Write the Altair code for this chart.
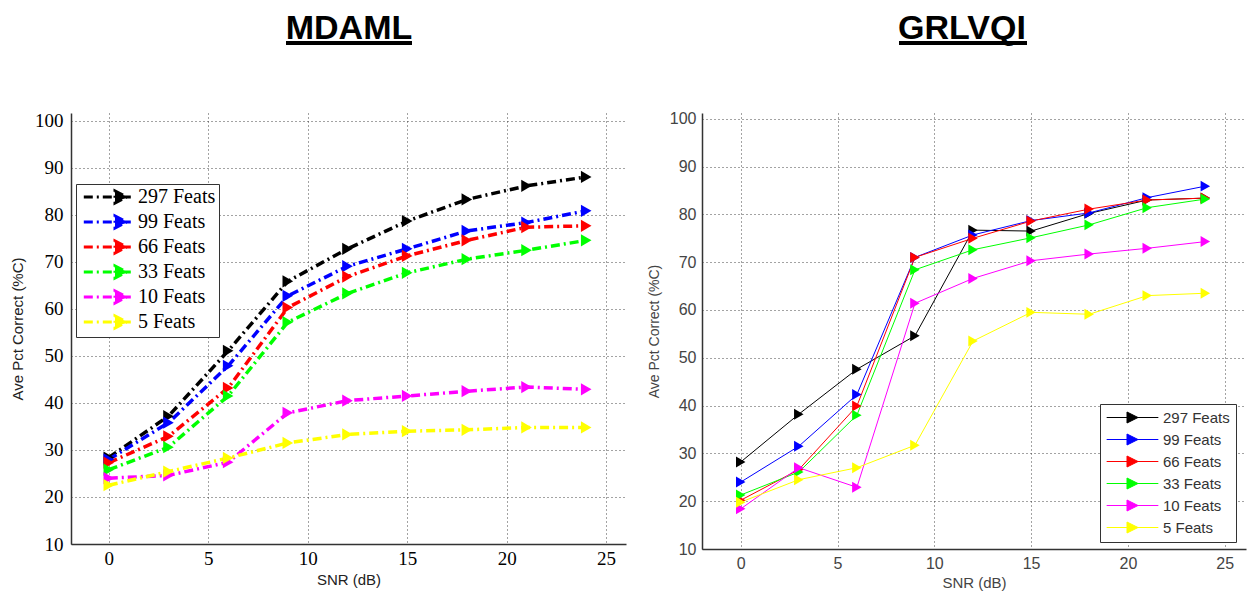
import altair as alt
import pandas as pd

snr = [0, 3, 6, 9, 12, 15, 18, 21, 24]
feats = ["297 Feats", "99 Feats", "66 Feats", "33 Feats", "10 Feats", "5 Feats"]
colors = ["#000000", "#0000FF", "#FF0000", "#00FF00", "#FF00FF", "#FFFF00"]

# MDAML (left panel)
mdaml_297 = [28.4, 37.2, 51.1, 65.9, 72.8, 78.7, 83.3, 86.2, 88.1]
mdaml_99 = [28.0, 35.8, 47.9, 62.8, 69.1, 72.8, 76.6, 78.4, 80.9]
mdaml_66 = [27.3, 32.9, 43.2, 60.3, 66.9, 71.3, 74.6, 77.4, 77.7]
mdaml_33 = [25.8, 30.6, 41.5, 57.2, 63.3, 67.7, 70.6, 72.5, 74.6]
mdaml_10 = [24.0, 24.6, 27.4, 37.9, 40.5, 41.5, 42.5, 43.4, 42.9]
mdaml_5 = [22.5, 25.4, 28.3, 31.5, 33.3, 34.0, 34.3, 34.8, 34.8]

# GRLVQI (right panel)
grlvqi_297 = [28.2, 38.2, 47.6, 54.6, 76.7, 76.5, 80.2, 83.0, 83.4]
grlvqi_99 = [24.0, 31.5, 42.3, 71.0, 75.7, 78.7, 80.3, 83.5, 85.9]
grlvqi_66 = [20.2, 26.6, 39.9, 71.0, 75.0, 78.6, 81.1, 83.0, 83.4]
grlvqi_33 = [21.3, 26.1, 38.0, 68.4, 72.6, 75.1, 77.8, 81.4, 83.2]
grlvqi_10 = [18.4, 27.0, 22.9, 61.4, 66.6, 70.3, 71.7, 72.9, 74.3]
grlvqi_5 = [19.8, 24.5, 27.0, 31.7, 53.5, 59.5, 59.1, 63.0, 63.5]

x_ticks = [0, 5, 10, 15, 20, 25]
y_ticks = [10, 20, 30, 40, 50, 60, 70, 80, 90, 100]
titles = ["MDAML", "GRLVQI"]


def to_long(series_list):
    rows = []
    for k, (name, vals) in enumerate(zip(feats, series_list)):
        for s, v in zip(snr, vals):
            rows.append({"snr": s, "acc": v, "feats": name, "k": k})
    return pd.DataFrame(rows)


df_left = to_long([mdaml_297, mdaml_99, mdaml_66, mdaml_33, mdaml_10, mdaml_5])
df_right = to_long([grlvqi_297, grlvqi_99, grlvqi_66, grlvqi_33, grlvqi_10, grlvqi_5])

DASHDOT = [9, 4, 2, 4]
SERIF = "Liberation Serif, Times New Roman, serif"
SANS = "Liberation Sans, Arial, sans-serif"
NARROW = "Liberation Sans Narrow, Arial Narrow, Liberation Sans, sans-serif"


def axis_common(**kw):
    base = dict(
        grid=True, gridDash=[1, 3], gridColor="#333333", gridOpacity=0.9, gridWidth=1,
        ticks=False, domainColor="#333333", domainWidth=1.5,
    )
    base.update(kw)
    return alt.Axis(**base)


def title_layers(text, cx, x1, x2):
    one = alt.Chart(pd.DataFrame({"t": [text]}))
    txt = one.mark_text(font=SANS, fontSize=34, fontWeight="bold", color="#000000",
                        align="center", baseline="alphabetic").encode(
        text="t:N", x=alt.value(cx), y=alt.value(-74))
    ul = one.mark_rule(color="#000000", strokeWidth=4).encode(
        x=alt.value(x1), x2=alt.value(x2), y=alt.value(-70))
    return txt, ul


# ---------- left panel ----------
legend_left = alt.Legend(
    orient="none", legendX=5, legendY=71, title=None,
    symbolType="M-6.2,0L2.2,0M-1,-1L1,0L-1,1Z", symbolSize=144,
    symbolStrokeWidth=3, symbolDash=DASHDOT,
    labelFont=SERIF, labelFontSize=20, labelColor="#000000", labelLimit=300,
    strokeColor="#333333", fillColor="#ffffff", padding=3, rowPadding=1,
    labelOffset=7, symbolOffset=32,
)
color_left = alt.Color("feats:N", scale=alt.Scale(domain=feats, range=colors), legend=legend_left)
x_left = alt.X("snr:Q", scale=alt.Scale(domain=[-1.9, 26], nice=False, zero=False),
               axis=axis_common(values=x_ticks, title="SNR (dB)", labelFont=SERIF, labelFontSize=19,
                                labelColor="#000000", labelPadding=5, titleFont=SANS, titleFontSize=15,
                                titleFontWeight="normal", titleColor="#222222", titlePadding=4))
y_left = alt.Y("acc:Q", scale=alt.Scale(domain=[10, 101.7], nice=False, zero=False),
               axis=axis_common(values=y_ticks, title="Ave Pct Correct (%C)", labelFont=SERIF,
                                labelFontSize=19, labelColor="#000000", labelPadding=8, titleFont=SANS,
                                titleFontSize=15, titleFontWeight="normal", titleColor="#222222",
                                titlePadding=9))

base_left = alt.Chart(df_left)
lines_left = base_left.mark_line(strokeWidth=3.5, strokeDash=DASHDOT).encode(
    x=x_left, y=y_left, color=color_left, detail="feats:N")
pts_left = base_left.mark_point(shape="triangle-right", filled=True, size=150, opacity=1,
                                strokeWidth=1).encode(x=x_left, y=y_left, color=color_left)
t_left, ul_left = title_layers(titles[0], 278, 215, 341)

left = alt.layer(lines_left, pts_left, t_left, ul_left).properties(width=555, height=431)

# ---------- right panel ----------
legend_right = alt.Legend(
    orient="none", legendX=398, legendY=291, title=None,
    symbolType="M-4.7,0L4.7,0M-1,-1L1,0L-1,1Z", symbolSize=121,
    symbolStrokeWidth=1,
    labelFont=SANS, labelFontSize=15, labelColor="#333333", labelLimit=300,
    strokeColor="#333333", fillColor="#ffffff", padding=6, rowPadding=6,
    labelOffset=23, symbolOffset=19,
)
color_right = alt.Color("feats:N", scale=alt.Scale(domain=feats, range=colors), legend=legend_right)
x_right = alt.X("snr:Q", scale=alt.Scale(domain=[-2, 26.1], nice=False, zero=False),
                axis=axis_common(values=x_ticks, title="SNR (dB)", labelFont=NARROW, labelFontSize=16,
                                 labelColor="#444444", labelPadding=6, titleFont=NARROW, titleFontSize=15,
                                 titleFontWeight="normal", titleColor="#444444", titlePadding=4))
y_right = alt.Y("acc:Q", scale=alt.Scale(domain=[10, 101.2], nice=False, zero=False),
                axis=axis_common(values=y_ticks, title="Ave Pct Correct (%C)", labelFont=NARROW,
                                 labelFontSize=16, labelColor="#444444", labelPadding=6, titleFont=NARROW,
                                 titleFontSize=14, titleFontWeight="normal", titleColor="#444444",
                                 titlePadding=8))

base_right = alt.Chart(df_right)
lines_right = base_right.mark_line(strokeWidth=1).encode(
    x=x_right, y=y_right, color=color_right, detail="feats:N")
pts_right = base_right.mark_point(shape="triangle-right", filled=True, size=120, opacity=1,
                                  strokeWidth=0).encode(x=x_right, y=y_right, color=color_right)
t_right, ul_right = title_layers(titles[1], 260, 197, 325)

right = alt.layer(lines_right, pts_right, t_right, ul_right).properties(width=544, height=436)

chart = alt.hconcat(left, right, spacing=19).resolve_scale(color="independent").properties(
    padding={"left": 2, "top": 3, "right": 0, "bottom": 0}
).configure_view(stroke="transparent")

chart.save("out.html", embed_options={"renderer": "svg", "actions": False})
